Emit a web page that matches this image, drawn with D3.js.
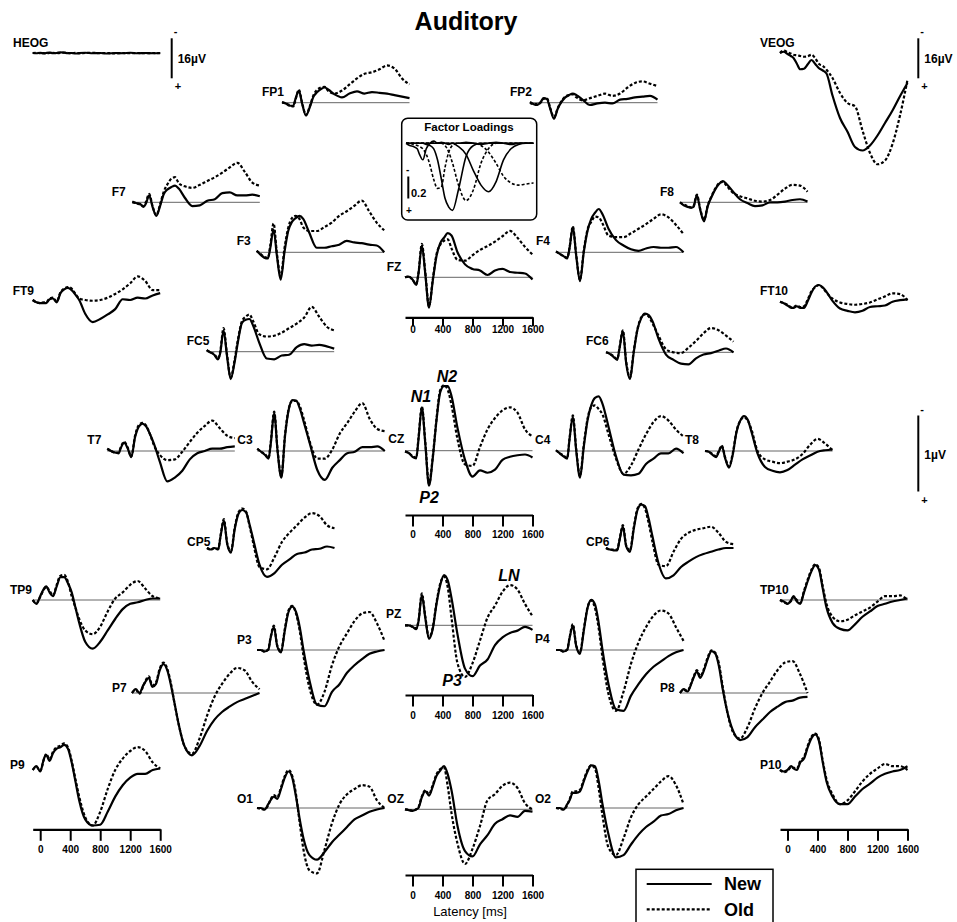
<!DOCTYPE html>
<html>
<head>
<meta charset="utf-8">
<script src="https://cdn.jsdelivr.net/npm/d3@7"></script>
<style>
body { margin: 0; background: #fff; }
text { font-family: "Liberation Sans", Arial, sans-serif; }
</style>
</head>
<body>
<svg id="chart" width="957" height="922"></svg>
<script>
// sample latencies (ms) shared by every waveform
var times = [-100,-50,0,50,80,125,170,220,270,320,370,420,470,520,600,700,800,900,1000,1100,1200,1300,1400,1500,1600];

// grand averages in microvolts (negative = up), New vs Old
var FP1_new = [-0.01,0.01,0.04,0.04,-0.05,-0.16,0.02,0.17,0.06,-0.08,-0.14,-0.18,-0.20,-0.17,-0.11,-0.07,-0.12,-0.15,-0.12,-0.14,-0.13,-0.12,-0.10,-0.08,-0.06];
var FP1_old = [0.0,0.01,0.03,0.05,-0.04,-0.17,0.01,0.16,0.05,-0.10,-0.17,-0.20,-0.21,-0.15,-0.12,-0.16,-0.24,-0.32,-0.38,-0.40,-0.44,-0.49,-0.45,-0.32,-0.24];
var FP2_new = [-0.01,0.02,0.03,-0.02,-0.06,-0.05,0.08,0.21,0.08,-0.01,-0.07,-0.10,-0.12,-0.10,-0.04,0.03,0.01,0.0,0.01,-0.04,-0.05,-0.07,-0.08,-0.09,-0.04];
var FP2_old = [0.0,0.02,0.02,-0.01,-0.05,-0.06,0.07,0.19,0.07,-0.02,-0.08,-0.10,-0.11,-0.07,-0.03,-0.06,-0.09,-0.12,-0.09,-0.12,-0.20,-0.26,-0.28,-0.25,-0.22];
var F7_new = [-0.01,0.01,0.02,0.06,0.02,-0.09,0.06,0.18,0.05,-0.11,-0.17,-0.20,-0.22,-0.18,-0.06,0.05,0.04,-0.02,-0.04,-0.12,-0.13,-0.09,-0.09,-0.10,-0.08];
var F7_old = [0.0,0.01,0.03,0.05,0.0,-0.11,0.05,0.17,0.03,-0.14,-0.24,-0.31,-0.33,-0.25,-0.21,-0.19,-0.23,-0.28,-0.33,-0.39,-0.46,-0.52,-0.40,-0.26,-0.22];
var F8_new = [0.0,0.04,0.06,0.07,0.06,-0.09,0.10,0.25,0.05,-0.07,-0.17,-0.24,-0.28,-0.24,-0.15,-0.04,0.01,0.05,0.04,0.0,0.0,-0.01,-0.03,-0.04,-0.01];
var F8_old = [0.0,0.03,0.05,0.07,0.05,-0.10,0.09,0.23,0.04,-0.08,-0.18,-0.25,-0.27,-0.22,-0.13,-0.08,-0.05,-0.02,-0.01,-0.03,-0.10,-0.18,-0.23,-0.22,-0.14];
var F3_new = [-0.02,0.03,0.07,0.08,-0.05,-0.30,0.05,0.36,0.0,-0.28,-0.40,-0.45,-0.48,-0.44,-0.26,-0.06,-0.06,-0.08,-0.10,-0.15,-0.13,-0.12,-0.10,-0.09,0.0];
var F3_old = [-0.02,0.02,0.06,0.07,-0.08,-0.38,0.02,0.32,-0.05,-0.32,-0.45,-0.48,-0.44,-0.33,-0.28,-0.28,-0.33,-0.39,-0.48,-0.54,-0.61,-0.68,-0.54,-0.39,-0.29];
var F4_new = [-0.01,0.02,0.05,0.08,-0.05,-0.33,0.05,0.38,0.0,-0.28,-0.44,-0.52,-0.57,-0.50,-0.31,-0.16,-0.09,-0.04,-0.02,-0.05,-0.07,-0.06,-0.06,-0.07,0.0];
var F4_old = [-0.01,0.02,0.05,0.07,-0.06,-0.34,0.04,0.36,-0.02,-0.30,-0.40,-0.47,-0.46,-0.38,-0.22,-0.20,-0.20,-0.25,-0.31,-0.37,-0.44,-0.50,-0.46,-0.36,-0.24];
var FZ_new = [0.0,-0.01,0.03,0.10,-0.05,-0.42,-0.05,0.40,0.05,-0.28,-0.45,-0.52,-0.58,-0.55,-0.33,-0.17,-0.11,-0.09,-0.03,-0.09,-0.11,-0.07,-0.06,-0.05,0.03];
var FZ_old = [0.0,-0.01,0.03,0.09,-0.06,-0.44,-0.07,0.38,0.03,-0.30,-0.43,-0.48,-0.50,-0.38,-0.23,-0.22,-0.29,-0.36,-0.41,-0.47,-0.54,-0.61,-0.52,-0.40,-0.30];
var FT9_new = [0.0,0.03,0.04,0.04,0.04,-0.01,-0.02,0.03,-0.09,-0.14,-0.16,-0.13,-0.07,0.0,0.18,0.29,0.25,0.19,0.12,-0.01,0.0,-0.03,-0.02,-0.06,-0.09];
var FT9_old = [0.0,0.03,0.04,0.03,0.03,-0.02,-0.03,0.02,-0.10,-0.15,-0.17,-0.15,-0.08,-0.02,0.0,0.01,0.0,-0.03,-0.08,-0.14,-0.22,-0.31,-0.25,-0.13,-0.13];
var FT10_new = [0.0,0.02,0.05,0.08,0.08,0.06,0.08,0.08,-0.01,-0.12,-0.20,-0.22,-0.19,-0.13,-0.01,0.09,0.12,0.14,0.12,0.07,0.06,0.05,0.0,-0.02,-0.03];
var FT10_old = [0.0,0.02,0.04,0.07,0.07,0.05,0.07,0.06,-0.03,-0.14,-0.19,-0.22,-0.18,-0.12,-0.04,0.01,0.03,0.04,0.03,0.01,-0.03,-0.07,-0.11,-0.10,-0.02];
var FC5_new = [-0.02,0.01,0.04,0.10,0.02,-0.28,0.05,0.36,0.15,-0.15,-0.38,-0.42,-0.43,-0.34,-0.12,0.09,0.10,0.05,0.04,-0.06,-0.10,-0.08,-0.09,-0.07,-0.04];
var FC5_old = [-0.02,0.01,0.03,0.09,0.0,-0.31,0.03,0.34,0.12,-0.18,-0.40,-0.46,-0.49,-0.40,-0.23,-0.20,-0.21,-0.25,-0.31,-0.37,-0.45,-0.59,-0.46,-0.33,-0.28];
var FC6_new = [0.0,0.02,0.06,0.10,-0.05,-0.28,0.15,0.35,0.0,-0.30,-0.45,-0.51,-0.49,-0.41,-0.18,0.03,0.10,0.15,0.16,0.08,0.03,0.01,-0.02,-0.05,0.0];
var FC6_old = [0.0,0.02,0.05,0.09,-0.06,-0.29,0.13,0.33,-0.02,-0.31,-0.46,-0.50,-0.47,-0.38,-0.22,-0.04,0.0,0.01,-0.06,-0.15,-0.25,-0.32,-0.29,-0.22,-0.14];
var T7_new = [-0.03,0.0,0.02,0.03,-0.04,-0.11,-0.04,0.08,-0.18,-0.32,-0.36,-0.32,-0.22,-0.10,0.14,0.40,0.35,0.26,0.11,0.03,0.0,-0.03,-0.03,-0.05,-0.06];
var T7_old = [-0.03,0.0,0.02,0.02,-0.05,-0.12,-0.05,0.07,-0.20,-0.34,-0.37,-0.33,-0.22,-0.08,0.05,0.12,0.11,0.01,-0.12,-0.24,-0.33,-0.40,-0.30,-0.20,-0.17];
var C3_new = [-0.03,0.01,0.05,0.10,-0.10,-0.50,0.0,0.35,-0.20,-0.55,-0.67,-0.66,-0.55,-0.38,-0.10,0.25,0.38,0.22,0.12,0.03,0.01,-0.05,-0.05,-0.06,0.0];
var C3_old = [-0.03,0.01,0.04,0.09,-0.12,-0.52,-0.02,0.33,-0.22,-0.56,-0.66,-0.66,-0.58,-0.42,-0.12,0.10,0.10,-0.02,-0.23,-0.37,-0.52,-0.63,-0.42,-0.29,-0.26];
var CZ_new = [0.01,0.03,0.08,0.10,-0.15,-0.57,-0.10,0.46,0.10,-0.40,-0.77,-0.85,-0.85,-0.72,-0.30,0.12,0.34,0.26,0.29,0.25,0.12,0.08,0.06,0.05,0.09];
var CZ_old = [0.01,0.03,0.07,0.09,-0.17,-0.58,-0.12,0.44,0.08,-0.42,-0.80,-0.86,-0.80,-0.60,-0.15,0.18,0.20,-0.05,-0.28,-0.43,-0.53,-0.57,-0.50,-0.28,-0.19];
var C4_new = [-0.01,0.03,0.07,0.10,-0.15,-0.45,0.0,0.35,-0.05,-0.40,-0.60,-0.70,-0.72,-0.62,-0.32,0.07,0.31,0.32,0.30,0.17,0.10,0.03,0.03,-0.03,0.03];
var C4_old = [-0.01,0.03,0.06,0.09,-0.16,-0.47,-0.02,0.33,-0.08,-0.42,-0.58,-0.60,-0.55,-0.48,-0.22,0.10,0.30,0.19,-0.02,-0.22,-0.38,-0.46,-0.40,-0.28,-0.19];
var T8_new = [0.0,0.01,0.05,0.08,0.02,-0.06,0.10,0.22,0.05,-0.25,-0.40,-0.46,-0.41,-0.25,0.03,0.21,0.26,0.28,0.25,0.18,0.11,0.06,0.01,-0.01,-0.02];
var T8_old = [0.0,0.01,0.04,0.07,0.01,-0.07,0.09,0.20,0.03,-0.26,-0.40,-0.44,-0.40,-0.28,0.0,0.11,0.14,0.16,0.14,0.11,0.04,-0.08,-0.16,-0.10,-0.01];
var CP5_new = [0.0,0.02,0.0,0.02,-0.15,-0.36,-0.05,0.06,-0.25,-0.45,-0.50,-0.47,-0.30,-0.10,0.22,0.38,0.33,0.22,0.15,0.08,0.06,0.02,0.01,-0.02,0.0];
var CP5_old = [0.0,0.02,0.0,0.01,-0.16,-0.38,-0.06,0.04,-0.27,-0.47,-0.52,-0.48,-0.28,-0.05,0.25,0.28,0.12,-0.08,-0.20,-0.30,-0.40,-0.46,-0.42,-0.30,-0.26];
var CP6_new = [0.0,0.02,0.03,0.03,-0.10,-0.28,-0.02,0.05,-0.25,-0.50,-0.57,-0.55,-0.38,-0.15,0.20,0.40,0.36,0.25,0.18,0.12,0.08,0.05,0.02,0.0,0.0];
var CP6_old = [0.0,0.02,0.02,0.02,-0.11,-0.30,-0.03,0.03,-0.27,-0.52,-0.58,-0.52,-0.32,-0.08,0.22,0.24,0.05,-0.12,-0.20,-0.24,-0.26,-0.28,-0.20,-0.08,-0.05];
var TP9_new = [0.0,0.05,-0.05,-0.15,-0.18,-0.10,-0.05,-0.18,-0.30,-0.30,-0.22,-0.10,0.10,0.30,0.55,0.64,0.55,0.40,0.25,0.12,0.05,0.03,0.0,-0.02,-0.02];
var TP9_old = [0.0,0.04,-0.04,-0.14,-0.17,-0.12,-0.06,-0.20,-0.32,-0.33,-0.24,-0.05,0.10,0.25,0.40,0.45,0.35,0.15,-0.02,-0.10,-0.20,-0.25,-0.15,-0.05,-0.02];
var TP10_new = [0.0,0.02,0.05,0.0,-0.05,0.02,0.05,-0.10,-0.25,-0.38,-0.46,-0.40,-0.15,0.10,0.30,0.38,0.40,0.32,0.22,0.15,0.08,0.05,0.02,0.0,-0.02];
var TP10_old = [0.0,0.03,0.04,0.01,-0.04,0.0,0.04,-0.12,-0.27,-0.40,-0.47,-0.42,-0.18,0.05,0.22,0.28,0.26,0.20,0.15,0.10,0.02,-0.05,-0.05,-0.06,0.0];
var PZ_new = [0.0,0.0,0.02,0.05,-0.05,-0.40,-0.10,0.18,0.05,-0.28,-0.53,-0.66,-0.59,-0.36,0.12,0.57,0.67,0.53,0.45,0.26,0.16,0.10,0.07,0.02,0.06];
var PZ_old = [0.0,0.0,0.02,0.04,-0.06,-0.42,-0.12,0.16,0.03,-0.30,-0.55,-0.64,-0.50,-0.10,0.50,0.68,0.50,0.20,-0.10,-0.26,-0.44,-0.53,-0.47,-0.28,-0.12];
var P3_new = [0.0,0.0,0.02,0.0,-0.15,-0.30,-0.05,0.03,-0.25,-0.50,-0.57,-0.50,-0.30,0.0,0.40,0.72,0.74,0.55,0.45,0.30,0.20,0.12,0.05,0.02,0.0];
var P3_old = [0.0,0.0,0.02,-0.01,-0.16,-0.32,-0.06,0.02,-0.27,-0.52,-0.58,-0.48,-0.25,0.08,0.50,0.72,0.55,0.20,-0.05,-0.22,-0.38,-0.48,-0.50,-0.35,-0.12];
var P4_new = [0.0,0.0,0.02,0.0,-0.15,-0.32,-0.05,0.05,-0.25,-0.55,-0.66,-0.60,-0.35,0.0,0.45,0.78,0.80,0.60,0.45,0.32,0.22,0.15,0.08,0.03,0.0];
var P4_old = [0.0,0.0,0.02,-0.01,-0.16,-0.34,-0.06,0.03,-0.27,-0.56,-0.65,-0.55,-0.28,0.10,0.58,0.80,0.55,0.18,-0.10,-0.30,-0.45,-0.52,-0.48,-0.30,-0.12];
var P7_new = [0.0,-0.05,0.0,-0.10,-0.15,-0.20,-0.08,-0.12,-0.30,-0.38,-0.30,-0.10,0.15,0.40,0.70,0.82,0.70,0.50,0.35,0.25,0.18,0.12,0.08,0.04,0.0];
var P7_old = [0.0,-0.04,0.01,-0.09,-0.16,-0.22,-0.10,-0.14,-0.32,-0.40,-0.32,-0.12,0.15,0.40,0.70,0.80,0.60,0.30,0.05,-0.12,-0.25,-0.33,-0.30,-0.15,-0.05];
var P8_new = [0.0,-0.05,-0.02,-0.12,-0.20,-0.28,-0.20,-0.30,-0.45,-0.55,-0.52,-0.35,-0.05,0.20,0.48,0.62,0.58,0.45,0.35,0.25,0.18,0.12,0.10,0.06,0.05];
var P8_old = [0.0,-0.04,-0.03,-0.13,-0.21,-0.30,-0.22,-0.32,-0.47,-0.56,-0.53,-0.38,-0.08,0.20,0.50,0.60,0.45,0.20,0.0,-0.15,-0.30,-0.40,-0.42,-0.25,0.0];
var P9_new = [0.0,-0.05,0.02,-0.15,-0.20,-0.12,-0.22,-0.28,-0.30,-0.33,-0.28,-0.10,0.15,0.40,0.65,0.73,0.72,0.55,0.35,0.20,0.10,0.05,0.05,0.0,-0.02];
var P9_old = [0.0,-0.04,0.01,-0.14,-0.21,-0.14,-0.24,-0.30,-0.32,-0.35,-0.30,-0.12,0.12,0.35,0.62,0.73,0.55,0.25,0.0,-0.15,-0.25,-0.30,-0.25,-0.10,-0.02];
var P10_new = [0.0,0.02,0.0,-0.05,-0.02,0.0,-0.10,-0.15,-0.30,-0.42,-0.47,-0.38,-0.10,0.15,0.35,0.45,0.45,0.35,0.25,0.18,0.10,0.05,0.02,0.0,-0.05];
var P10_old = [0.0,0.03,0.01,-0.04,-0.03,-0.02,-0.12,-0.17,-0.32,-0.44,-0.48,-0.40,-0.12,0.12,0.32,0.45,0.40,0.28,0.15,0.05,-0.02,-0.08,-0.05,-0.05,0.0];
var O1_new = [0.0,0.0,0.02,-0.05,-0.10,-0.15,-0.12,-0.25,-0.40,-0.48,-0.40,-0.15,0.15,0.40,0.62,0.68,0.58,0.45,0.35,0.25,0.15,0.10,0.05,0.02,0.0];
var O1_old = [0.0,0.01,0.02,-0.04,-0.11,-0.17,-0.14,-0.27,-0.42,-0.50,-0.42,-0.18,0.20,0.55,0.82,0.86,0.55,0.20,-0.05,-0.18,-0.25,-0.30,-0.28,-0.10,0.0];
var OZ_new = [0.0,0.01,0.02,0.0,-0.02,-0.16,-0.24,-0.18,-0.30,-0.44,-0.51,-0.57,-0.46,-0.25,0.22,0.55,0.62,0.46,0.34,0.19,0.13,0.08,0.10,0.02,0.03];
var OZ_old = [0.0,0.01,0.02,0.0,-0.03,-0.17,-0.25,-0.20,-0.32,-0.46,-0.53,-0.55,-0.30,0.05,0.45,0.72,0.52,0.22,-0.12,-0.20,-0.31,-0.35,-0.28,-0.08,0.0];
var O2_new = [0.0,0.0,0.02,-0.05,-0.10,-0.20,-0.20,-0.22,-0.35,-0.48,-0.56,-0.55,-0.35,-0.05,0.35,0.65,0.62,0.48,0.35,0.25,0.18,0.10,0.08,0.03,0.0];
var O2_old = [0.0,0.01,0.02,-0.04,-0.11,-0.22,-0.22,-0.24,-0.37,-0.50,-0.56,-0.52,-0.25,0.10,0.52,0.62,0.40,0.12,-0.05,-0.15,-0.25,-0.35,-0.42,-0.30,-0.05];

// eye channels (µV, 16µV scale)
var HEOG_new = [0,0.1,-0.1,0.2,0,-0.2,0.1,0,-0.3,-0.1,0.1,0,0.2,0,-0.1,0.1,0,0.2,0,0.1,-0.1,0.1,0,0.1,0];
var HEOG_old = [0,-0.1,0.1,0,0.2,0,-0.1,0.1,0,-0.2,0,0.1,-0.1,0.2,0,-0.1,0.1,0,0.2,0,0.1,0,0.1,0,0.1];
var VEOG_new = [0,-0.5,0.4,1.3,2,4.3,6.5,6.3,4.5,2.8,4.4,6.1,7,8.2,17,26,31.5,37.6,39,37,33,28,23,17.3,12];
var VEOG_old = [0,-1,-0.3,0.3,0.7,0.9,1.2,1.5,1.3,0.7,2.1,4.4,5.1,6.7,10,16,20,21.3,31,40,44.5,43,36.4,25,10.7];

// temporal factor loadings (solid / dashed alternate)
var loading1 = [0,0.02,0.03,0.05,0.10,0.15,0.05,0.0,-0.02,0.0,-0.01,0.0,0.01,0,0,-0.01,0,0.01,0,-0.01,0,0.01,0,0,0];
var loading2 = [0,0,0.01,0.02,0.03,0.05,0.10,0.20,0.33,0.41,0.40,0.22,0.08,0.02,0,0,0,0,0,0,0,0,0,0,0];
var loading3 = [0,0,0,0,0,0,0.01,0.02,0.05,0.15,0.32,0.50,0.58,0.61,0.42,0.12,0.02,0,0,0,0,0,0,0,0];
var loading4 = [0,0,0,0,0,0,0,0,0,0,0,0.02,0.08,0.18,0.38,0.52,0.42,0.18,0.05,0,0,0,0,0,0];
var loading5 = [0,0,0,0,0,0,0,0,0,0,0,0,0,0,0.03,0.10,0.25,0.38,0.44,0.35,0.15,0.05,0.01,0,0];
var loading6 = [0,0,0,0,0,0,0,0,0,0,0,0,0,0,0,0,0,0.02,0.08,0.18,0.30,0.36,0.38,0.37,0.36];

var tickMajor = [0, 400, 800, 1200, 1600];
var tickMinor = [200, 600, 1000, 1400];

// name, left x, baseline y, label x, label y, zero line
var layout = [
  ["FP1", 282, 102.7, 262, 96, 1], ["FP2", 530, 102.7, 510, 96, 1],
  ["F7", 132.3, 202.3, 111.7, 196, 1], ["F8", 680, 202.3, 660, 196, 1],
  ["F3", 256.7, 252.3, 236.7, 245.3, 1], ["F4", 556, 252.3, 536, 245.3, 1],
  ["FZ", 405, 277.3, 386.7, 270.7, 1],
  ["FT9", 32.7, 300, 12.7, 295.3, 0], ["FT10", 780, 301.7, 760, 295.3, 0],
  ["FC5", 206.7, 351.7, 186.7, 345, 1], ["FC6", 606, 352.3, 586, 345, 1],
  ["T7", 107.3, 451, 87.3, 444.3, 1], ["C3", 257.3, 451, 237.3, 444.3, 1],
  ["CZ", 405, 450.7, 388.3, 443.3, 1], ["C4", 556, 451, 535, 444.3, 1],
  ["T8", 705, 451, 685, 444.3, 1],
  ["CP5", 207, 548, 187, 546, 0], ["CP6", 606, 548, 586, 546, 0],
  ["TP9", 32.7, 600, 10, 594, 1], ["TP10", 780, 600, 760, 594, 1],
  ["PZ", 405, 625.3, 386, 618.3, 1],
  ["P3", 257, 650, 237, 644, 1], ["P4", 556, 650, 535, 643.3, 1],
  ["P7", 132, 693, 112, 692, 1], ["P8", 680, 693, 660, 692, 1],
  ["P9", 32.7, 770, 10, 769, 0], ["P10", 780, 770, 760, 769, 0],
  ["O1", 257, 808, 237, 803, 1], ["OZ", 405, 809.3, 387.3, 803.3, 1],
  ["O2", 556, 808, 535, 803, 1]
];

var svg = d3.select("#chart");
var W = 127.5, UV = 76;

function drawWaves(g, x, y, name) {
  var line = d3.line()
      .x(function(d, i) { return x(times[i]); })
      .y(function(d) { return y(d); })
      .curve(d3.curveMonotoneX);
  g.append("path").datum(window[name + "_old"])
      .attr("d", line).attr("fill", "none")
      .attr("stroke", "#000").attr("stroke-width", 2.2)
      .attr("stroke-dasharray", "3,2");
  g.append("path").datum(window[name + "_new"])
      .attr("d", line).attr("fill", "none")
      .attr("stroke", "#000").attr("stroke-width", 2.2);
}

layout.forEach(function(p) {
  var x = d3.scaleLinear().domain([-100, 1600]).range([p[1], p[1] + W]);
  var y = d3.scaleLinear().domain([0, 1]).range([p[2], p[2] + UV]);
  var g = svg.append("g");
  if (p[5]) {
    g.append("line")
      .attr("x1", x(-100)).attr("x2", x(1600))
      .attr("y1", y(0)).attr("y2", y(0))
      .attr("stroke", "#666").attr("stroke-width", 1);
  }
  drawWaves(g, x, y, p[0]);
  g.append("text")
    .attr("x", p[3]).attr("y", p[4])
    .text(p[0])
    .style("font-size", "12px").style("font-weight", "bold");
});

// EOG channels, 16µV = 40px
[["HEOG", 32.7, 53, 13, 47], ["VEOG", 780, 53, 760, 47]].forEach(function(p) {
  var x = d3.scaleLinear().domain([-100, 1600]).range([p[1], p[1] + W]);
  var y = d3.scaleLinear().domain([0, 16]).range([p[2], p[2] + 40]);
  var g = svg.append("g");
  drawWaves(g, x, y, p[0]);
  g.append("text").attr("x", p[3]).attr("y", p[4]).text(p[0])
    .style("font-size", "12px").style("font-weight", "bold");
});

// scale bars
function scaleBar(xb, y0, len, label) {
  var s = d3.scaleLinear().domain([0, 1]).range([y0, y0 + len]);
  svg.append("line").attr("x1", xb).attr("x2", xb).attr("y1", s(0)).attr("y2", s(1))
    .attr("stroke", "#000").attr("stroke-width", 2);
  svg.append("text").attr("x", xb + 2).attr("y", s(0) - 3).text("-")
    .style("font-size", "11px").style("font-weight", "bold");
  svg.append("text").attr("x", xb + 3).attr("y", s(1) + 12).text("+")
    .style("font-size", "11px").style("font-weight", "bold");
  svg.append("text").attr("x", xb + 6).attr("y", (s(0) + s(1)) / 2 + 5).text(label)
    .style("font-size", "12px").style("font-weight", "bold");
}
scaleBar(171.7, 38.3, 40, "16µV");
scaleBar(918.3, 38.3, 40, "16µV");
scaleBar(918.3, 415.5, UV, "1µV");

// latency axes
var axes = [[405, 317.3, 9, 0], [405, 515, 11.5, 4], [405, 695, 11.5, 5],
            [405, 875, 11.5, 5], [32.7, 829.3, 11.5, 5], [780, 829.3, 11.5, 5]];
axes.forEach(function(a) {
  var x = d3.scaleLinear().domain([-100, 1600]).range([a[0], a[0] + W]);
  var g = svg.append("g").attr("transform", "translate(0," + a[1] + ")");
  g.call(d3.axisBottom(x).tickValues(tickMinor).tickSize(a[2] / 2).tickSizeOuter(0).tickFormat(""));
  g.call(d3.axisBottom(x).tickValues(tickMajor).tickSize(a[2]).tickSizeOuter(0)
      .tickPadding(a[3]).tickFormat(d3.format("d")));
  g.selectAll(".domain").attr("stroke-width", 2.2);
  g.selectAll(".tick line").attr("stroke-width", 2);
  g.selectAll("text")
    .style("font-family", "'Liberation Sans', Arial, sans-serif")
    .style("font-size", "10px").style("font-weight", "bold");
});

svg.append("text").attr("x", 470).attr("y", 916).attr("text-anchor", "middle")
  .text("Latency [ms]").style("font-size", "13px");

// factor loadings inset
var fx = d3.scaleLinear().domain([-100, 1600]).range([406, 406 + W]);
var fy = d3.scaleLinear().domain([0, 1]).range([143.3, 143.3 + 110]);
svg.append("rect").attr("x", 401.7).attr("y", 118.3).attr("width", 135).attr("height", 101.7)
  .attr("rx", 6).attr("fill", "none").attr("stroke", "#000").attr("stroke-width", 1.5);
svg.append("text").attr("x", 469).attr("y", 131).attr("text-anchor", "middle")
  .text("Factor Loadings").style("font-size", "11.5px").style("font-weight", "bold");
var fline = d3.line()
    .x(function(d, i) { return fx(times[i]); })
    .y(function(d) { return fy(d); })
    .curve(d3.curveMonotoneX);
[loading1, loading2, loading3, loading4, loading5, loading6].forEach(function(l, i) {
  svg.append("path").datum(l).attr("d", fline).attr("fill", "none")
    .attr("stroke", "#000").attr("stroke-width", 1.6)
    .attr("stroke-dasharray", i % 2 ? "3,2" : null);
});
var fs = d3.scaleLinear().domain([0, 0.2]).range([176.5, 198.5]);
svg.append("line").attr("x1", 408.3).attr("x2", 408.3).attr("y1", fs(0)).attr("y2", fs(0.2))
  .attr("stroke", "#000").attr("stroke-width", 2);
svg.append("text").attr("x", 406).attr("y", 173).text("-").style("font-size", "10px").style("font-weight", "bold");
svg.append("text").attr("x", 406).attr("y", 214).text("+").style("font-size", "10px").style("font-weight", "bold");
svg.append("text").attr("x", 411).attr("y", 197).text("0.2").style("font-size", "11px").style("font-weight", "bold");

// component labels
[["N1", 421, 402], ["N2", 447, 382], ["P2", 429, 503], ["LN", 509, 581], ["P3", 452, 686]].forEach(function(c) {
  svg.append("text").attr("x", c[1]).attr("y", c[2]).attr("text-anchor", "middle")
    .text(c[0]).style("font-size", "16px").style("font-weight", "bold").style("font-style", "italic");
});

// title
svg.append("text").attr("x", 466).attr("y", 30).attr("text-anchor", "middle")
  .text("Auditory").style("font-size", "25px").style("font-weight", "bold");

// legend
var lg = svg.append("g");
lg.append("rect").attr("x", 636).attr("y", 869.3).attr("width", 137).attr("height", 70)
  .attr("fill", "#fff").attr("stroke", "#000").attr("stroke-width", 1.5);
lg.append("line").attr("x1", 646.7).attr("x2", 711.7).attr("y1", 884).attr("y2", 884)
  .attr("stroke", "#000").attr("stroke-width", 2.2);
lg.append("line").attr("x1", 646.7).attr("x2", 710).attr("y1", 909.3).attr("y2", 909.3)
  .attr("stroke", "#000").attr("stroke-width", 2.2).attr("stroke-dasharray", "3,2");
lg.append("text").attr("x", 724).attr("y", 890).text("New").style("font-size", "18px").style("font-weight", "bold");
lg.append("text").attr("x", 724).attr("y", 915.5).text("Old").style("font-size", "18px").style("font-weight", "bold");
</script>
</body>
</html>
